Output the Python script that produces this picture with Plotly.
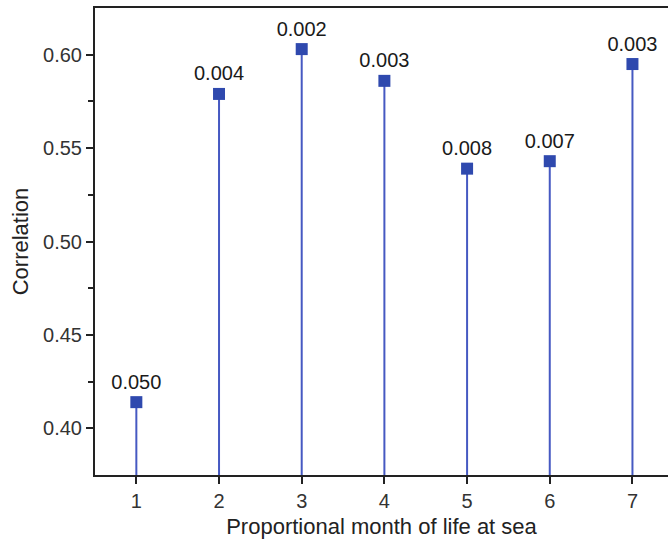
import plotly.graph_objects as go

months = [1, 2, 3, 4, 5, 6, 7]
correlation = [0.414, 0.579, 0.603, 0.586, 0.539, 0.543, 0.595]
p_labels = ["0.050", "0.004", "0.002", "0.003", "0.008", "0.007", "0.003"]

y_min, y_max = 0.375, 0.625

stem_x, stem_y = [], []
for m, c in zip(months, correlation):
    stem_x += [m, m, None]
    stem_y += [y_min - 0.01, c, None]

fig = go.Figure()
fig.add_trace(go.Scatter(x=stem_x, y=stem_y, mode="lines",
                         line=dict(color="#4659c2", width=2),
                         hoverinfo="skip", showlegend=False))
fig.add_trace(go.Scatter(x=months, y=correlation, mode="markers+text",
                         marker=dict(symbol="square", size=12, color="#2f49ae",
                                     line=dict(width=0)),
                         text=p_labels, textposition="top center",
                         textfont=dict(family="Liberation Sans, Arial", size=20, color="#1a1a1a"),
                         showlegend=False))

axis_font = dict(family="Liberation Sans, Arial", size=20, color="#333333")
title_font = dict(family="Liberation Sans, Arial", size=22, color="#222")
fig.update_layout(
    width=668, height=548,
    margin=dict(l=95, r=0, t=8, b=73),
    plot_bgcolor="white", paper_bgcolor="white",
    xaxis=dict(range=[0.5, 7.43], tickvals=months, ticks="outside", ticklen=7,
               tickwidth=1.5, tickcolor="#222", showline=True, linecolor="#222",
               linewidth=2, mirror=True, showgrid=False, zeroline=False,
               tickfont=axis_font,
               title=dict(text="Proportional month of life at sea",
                          font=title_font, standoff=8)),
    yaxis=dict(range=[y_min, y_max], tickvals=[0.40, 0.45, 0.50, 0.55, 0.60],
               tickformat=".2f", ticks="outside", ticklen=7, tickwidth=1.5,
               tickcolor="#222", showline=True, linecolor="#222", linewidth=2,
               mirror=False, showgrid=False, zeroline=False, tickfont=axis_font,
               minor=dict(tickvals=[0.425, 0.475, 0.525, 0.575], ticks="outside",
                          ticklen=5, tickwidth=1.5, tickcolor="#222", showgrid=False),
               title=dict(text="Correlation", font=title_font, standoff=8)),
)
fig.write_html("out.html")
